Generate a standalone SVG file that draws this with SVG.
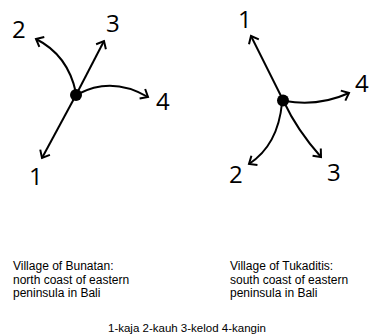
<svg xmlns="http://www.w3.org/2000/svg" width="369" height="335" viewBox="0 0 369 335">
<defs>
<marker id="arr" markerUnits="userSpaceOnUse" markerWidth="20" markerHeight="20" viewBox="-10 -10 20 20" refX="0" refY="0" orient="auto" overflow="visible">
<path d="M-6.5,-5.5 L0,0 L-6.5,5.5" fill="none" stroke="#000" stroke-width="2"/>
</marker>
</defs>
<style>
.c{fill:none;stroke:#000;stroke-width:2;marker-end:url(#arr)}
.n{font-family:"Open Sans","Liberation Sans",sans-serif;font-size:24px;fill:#000}
.t{font-family:"Liberation Sans",Arial,sans-serif;font-size:12px;fill:#000}
.l{font-family:"Liberation Sans",Arial,sans-serif;font-size:11.5px;fill:#000}
</style>
<rect width="369" height="335" fill="#fff"/>
<g id="connectors">
<path class="c" d="M76,93 Q68,55 36,39"/>
<path class="c" d="M76,95 L104,41"/>
<path class="c" d="M78,94 Q112,76 148,97"/>
<path class="c" d="M76,95 L42,158"/>
<path class="c" d="M283,100 L251,36"/>
<path class="c" d="M285,101 Q318,107 349,93"/>
<path class="c" d="M282,103 Q278,145 249,164"/>
<path class="c" d="M284,102 Q297,130 321,157"/>
</g>
<g id="node-left-center"><circle cx="76" cy="95" r="6"/></g>
<g id="node-right-center"><circle cx="283" cy="100.5" r="6"/></g>
<g id="left-labels">
<text class="n" x="12" y="38">2</text>
<text class="n" x="106" y="32">3</text>
<text class="n" x="156" y="110">4</text>
<text class="n" x="29" y="185">1</text>
</g>
<g id="right-labels">
<text class="n" x="238" y="28">1</text>
<text class="n" x="355" y="92">4</text>
<text class="n" x="229" y="183">2</text>
<text class="n" x="327" y="181">3</text>
</g>
<g id="caption-left">
<text class="t" x="13" y="270">Village of Bunatan:</text>
<text class="t" x="13" y="283.5">north coast of eastern</text>
<text class="t" x="13" y="297">peninsula in Bali</text>
</g>
<g id="caption-right">
<text class="t" x="230" y="270">Village of Tukaditis:</text>
<text class="t" x="230" y="283.5">south coast of eastern</text>
<text class="t" x="230" y="297">peninsula in Bali</text>
</g>
<g id="legend">
<text class="l" x="108" y="332">1-kaja 2-kauh 3-kelod 4-kangin</text>
</g>
</svg>
